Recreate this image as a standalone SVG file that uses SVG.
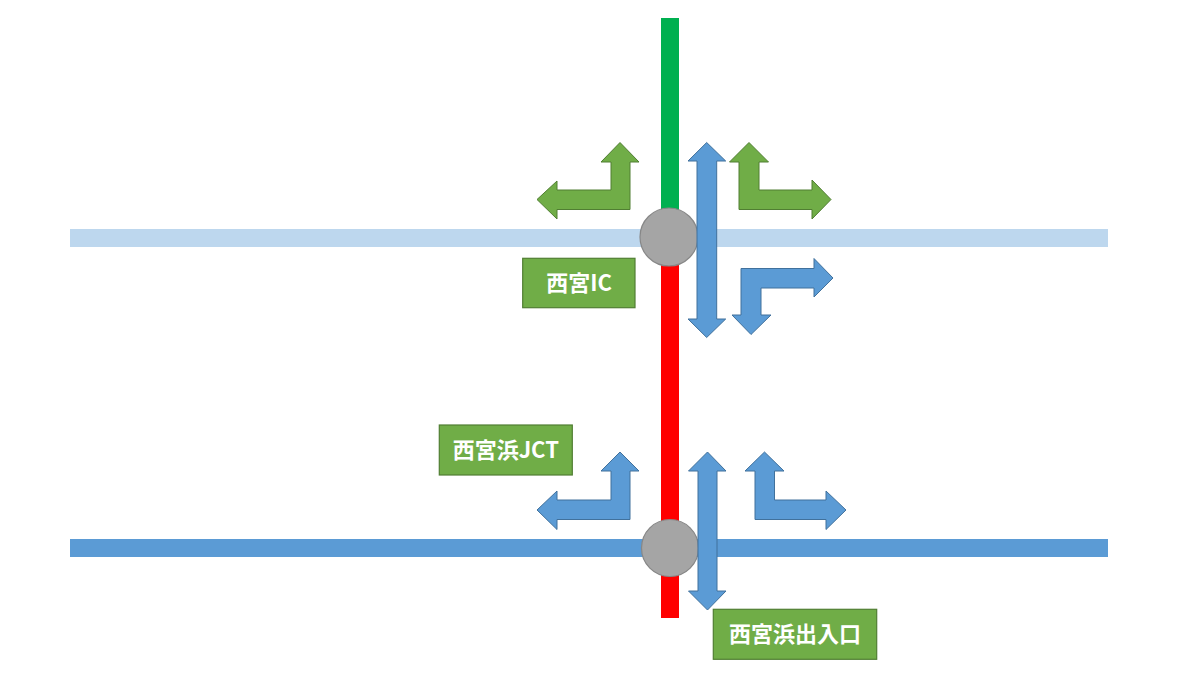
<svg xmlns="http://www.w3.org/2000/svg" width="1200" height="675" viewBox="0 0 1200 675">
  <style>
    .garrow { fill: #70AD47; stroke: #507E32; stroke-width: 1; stroke-linejoin: miter; }
    .barrow { fill: #5B9BD5; stroke: #41719C; stroke-width: 1; stroke-linejoin: miter; }
    .node { fill: #A5A5A5; stroke: #878787; stroke-width: 1.2; }
    .lbox { fill: #70AD47; stroke: #507E32; stroke-width: 1.2; }
    .ltext { fill: #FFFFFF; font-family: "Noto Sans CJK JP", "Noto Sans", sans-serif; font-weight: bold; font-size: 22px; text-anchor: middle; }
  </style>
  <rect width="1200" height="675" fill="#FFFFFF"/>
  <g id="roads">
    <rect x="70" y="229" width="1038" height="18" fill="#BDD7EE"/>
    <rect x="70" y="539" width="1038" height="18" fill="#5B9BD5"/>
    <rect x="661" y="18" width="18" height="220" fill="#00B050"/>
    <rect x="661" y="237" width="18" height="381" fill="#FF0000"/>
  </g>
  <g id="node-nishinomiya-ic">
    <circle class="node" cx="669" cy="237" r="29"/>
  </g>
  <g id="node-nishinomiyahama-jct">
    <circle class="node" cx="670" cy="548" r="28.5"/>
  </g>
  <g id="connectors">
    <path class="garrow" d="M537,199.5 L557,181 L557,190 L611,190 L611,162 L601,162 L620,142.5 L639,162 L630,162 L630,209.5 L557,209.5 L557,219 Z"/>
    <path class="garrow" d="M749,142.5 L768.5,162 L759,162 L759,190 L812,190 L812,180 L831,199.5 L812,219 L812,209.5 L739,209.5 L739,162 L729.5,162 Z"/>
    <path class="barrow" d="M706.7,142.5 L725.7,161 L716.7,161 L716.7,319 L725.7,319 L706.7,337.5 L688,319 L697,319 L697,161 L688,161 Z"/>
    <path class="barrow" d="M741,268.5 L814,268.5 L814,258.5 L833,278 L814,297 L814,288 L761,288 L761,315 L771,315 L751,334.5 L732,315 L741,315 Z"/>
    <path class="barrow" d="M537,510 L557,491 L557,500 L611,500 L611,471 L601,471 L620,452 L639,471 L630,471 L630,519.5 L557,519.5 L557,529.5 Z"/>
    <path class="barrow" d="M764.5,452 L784,471 L774.5,471 L774.5,500 L826,500 L826,491 L846,510 L826,529.5 L826,519.5 L755,519.5 L755,471 L745,471 Z"/>
    <path class="barrow" d="M707.5,452 L726,471 L717,471 L717,591 L726,591 L707.5,610 L688.5,591 L698,591 L698,471 L688.5,471 Z"/>
  </g>
  <g id="label-nishinomiya-ic">
    <rect class="lbox" x="522.7" y="258.3" width="112.3" height="49.4"/>
    <text class="ltext" x="579" y="291">西宮IC</text>
  </g>
  <g id="label-nishinomiyahama-jct">
    <rect class="lbox" x="439.3" y="425" width="133" height="50"/>
    <text class="ltext" x="505.8" y="458">西宮浜JCT</text>
  </g>
  <g id="label-nishinomiyahama-ramp">
    <rect class="lbox" x="713.3" y="609.3" width="163.4" height="50"/>
    <text class="ltext" x="795" y="642.3">西宮浜出入口</text>
  </g>
</svg>
